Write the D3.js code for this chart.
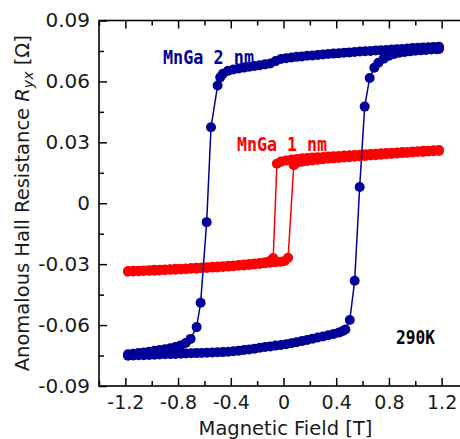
<!DOCTYPE html>
<html><head><meta charset="utf-8">
<script src="https://cdn.jsdelivr.net/npm/d3@7"></script>
<style>body{margin:0;background:#fff}svg{display:block}</style>
</head><body><svg id="c" width="460" height="439"></svg>
<script>
const xMajorTicks = [-1.2, -0.8, -0.4, 0, 0.4, 0.8, 1.2];
const xMajorLabels = ["-1.2", "-0.8", "-0.4", "0", "0.4", "0.8", "1.2"];
const xMinorTicks = [-1.4, -1.0, -0.6, -0.2, 0.2, 0.6, 1.0, 1.4];
const yMajorTicks = [-0.09, -0.06, -0.03, 0, 0.03, 0.06, 0.09];
const yMajorLabels = ["-0.09", "-0.06", "-0.03", "0", "0.03", "0.06", "0.09"];
const yMinorTicks = [-0.075, -0.045, -0.015, 0.015, 0.045, 0.075];

// MnGa 2 nm, field sweeping down
const blueDown = [[1.18,0.0771],[1.14,0.0770],[1.10,0.0768],[1.06,0.0767],[1.02,0.0766],[0.98,0.0764],[0.94,0.0762],[0.90,0.0760],[0.86,0.0758],[0.82,0.0757],[0.78,0.0755],[0.74,0.0753],[0.70,0.0752],[0.66,0.0750],[0.62,0.0749],[0.58,0.0747],[0.54,0.0745],[0.50,0.0743],[0.46,0.0741],[0.42,0.0739],[0.38,0.0737],[0.34,0.0735],[0.30,0.0733],[0.26,0.0730],[0.22,0.0728],[0.18,0.0726],[0.14,0.0723],[0.10,0.0721],[0.06,0.0718],[0.02,0.0714],[-0.02,0.0710],[-0.06,0.0700],[-0.10,0.0688],[-0.14,0.0684],[-0.18,0.0680],[-0.22,0.0676],[-0.26,0.0672],[-0.30,0.0668],[-0.34,0.0664],[-0.38,0.0659],[-0.42,0.0653],[-0.46,0.0638],[-0.48,0.0620],[-0.50,0.0580],[-0.55,0.0374],[-0.583,-0.0093],[-0.629,-0.0490],[-0.659,-0.0610],[-0.705,-0.0668],[-0.742,-0.0688],[-0.78,-0.0700],[-0.82,-0.0708],[-0.86,-0.0714],[-0.90,-0.0719],[-0.94,-0.0723],[-0.98,-0.0727],[-1.02,-0.0731],[-1.06,-0.0735],[-1.10,-0.0738],[-1.14,-0.0741],[-1.18,-0.0744]];
// MnGa 2 nm, field sweeping up
const blueUp = [[-1.18,-0.0751],[-1.14,-0.0750],[-1.10,-0.0749],[-1.06,-0.0748],[-1.02,-0.0747],[-0.98,-0.0746],[-0.94,-0.0745],[-0.90,-0.0744],[-0.86,-0.0743],[-0.82,-0.0742],[-0.78,-0.0741],[-0.74,-0.0740],[-0.70,-0.0739],[-0.66,-0.0738],[-0.62,-0.0737],[-0.58,-0.0736],[-0.54,-0.0735],[-0.50,-0.0734],[-0.46,-0.0733],[-0.42,-0.0731],[-0.38,-0.0729],[-0.34,-0.0726],[-0.30,-0.0723],[-0.26,-0.0720],[-0.22,-0.0716],[-0.18,-0.0712],[-0.14,-0.0708],[-0.10,-0.0705],[-0.06,-0.0701],[-0.02,-0.0698],[0.02,-0.0694],[0.06,-0.0689],[0.10,-0.0684],[0.14,-0.0679],[0.18,-0.0673],[0.22,-0.0667],[0.26,-0.0661],[0.30,-0.0656],[0.34,-0.0650],[0.38,-0.0644],[0.42,-0.0637],[0.45,-0.0629],[0.47,-0.0622],[0.503,-0.0575],[0.54,-0.0382],[0.578,0.0080],[0.616,0.0476],[0.654,0.0617],[0.689,0.0667],[0.72,0.0692],[0.76,0.0712],[0.80,0.0726],[0.84,0.0735],[0.88,0.0741],[0.92,0.0745],[0.96,0.0748],[1.00,0.0751],[1.04,0.0753],[1.08,0.0755],[1.12,0.0757],[1.16,0.0759],[1.18,0.0760]];
// MnGa 1 nm, field sweeping down
const redDown = [[1.18,0.0262],[1.14,0.0261],[1.10,0.0259],[1.06,0.0258],[1.02,0.0256],[0.98,0.0255],[0.94,0.0253],[0.90,0.0252],[0.86,0.0250],[0.82,0.0249],[0.78,0.0247],[0.74,0.0246],[0.70,0.0244],[0.66,0.0243],[0.62,0.0241],[0.58,0.0239],[0.54,0.0238],[0.50,0.0236],[0.46,0.0235],[0.42,0.0233],[0.38,0.0232],[0.34,0.0230],[0.30,0.0228],[0.26,0.0227],[0.22,0.0225],[0.18,0.0223],[0.14,0.0221],[0.10,0.0218],[0.06,0.0215],[0.02,0.0211],[-0.02,0.0205],[-0.05,0.0195],[-0.078,-0.0270],[-0.10,-0.0283],[-0.14,-0.0290],[-0.18,-0.0294],[-0.22,-0.0297],[-0.26,-0.0299],[-0.30,-0.0302],[-0.34,-0.0304],[-0.38,-0.0306],[-0.42,-0.0308],[-0.46,-0.0310],[-0.50,-0.0312],[-0.54,-0.0313],[-0.58,-0.0315],[-0.62,-0.0316],[-0.66,-0.0318],[-0.70,-0.0319],[-0.74,-0.0321],[-0.78,-0.0322],[-0.82,-0.0323],[-0.86,-0.0325],[-0.90,-0.0326],[-0.94,-0.0327],[-0.98,-0.0328],[-1.02,-0.0330],[-1.06,-0.0331],[-1.10,-0.0332],[-1.14,-0.0333],[-1.18,-0.0334]];
// MnGa 1 nm, field sweeping up
const redUp = [[-1.18,-0.0337],[-1.14,-0.0336],[-1.10,-0.0335],[-1.06,-0.0334],[-1.02,-0.0333],[-0.98,-0.0332],[-0.94,-0.0331],[-0.90,-0.0330],[-0.86,-0.0328],[-0.82,-0.0327],[-0.78,-0.0326],[-0.74,-0.0325],[-0.70,-0.0323],[-0.66,-0.0322],[-0.62,-0.0320],[-0.58,-0.0319],[-0.54,-0.0317],[-0.50,-0.0316],[-0.46,-0.0314],[-0.42,-0.0312],[-0.38,-0.0310],[-0.34,-0.0308],[-0.30,-0.0306],[-0.26,-0.0304],[-0.22,-0.0302],[-0.18,-0.0299],[-0.14,-0.0296],[-0.10,-0.0293],[-0.06,-0.0290],[-0.02,-0.0288],[0.01,-0.0284],[0.035,-0.0268],[0.078,0.0187],[0.10,0.0199],[0.14,0.0204],[0.18,0.0208],[0.22,0.0211],[0.26,0.0214],[0.30,0.0217],[0.34,0.0219],[0.38,0.0221],[0.42,0.0223],[0.46,0.0225],[0.50,0.0227],[0.54,0.0229],[0.58,0.0231],[0.62,0.0233],[0.66,0.0235],[0.70,0.0237],[0.74,0.0239],[0.78,0.0241],[0.82,0.0243],[0.86,0.0245],[0.90,0.0247],[0.94,0.0248],[0.98,0.0250],[1.02,0.0252],[1.06,0.0253],[1.10,0.0255],[1.14,0.0256],[1.18,0.0257]];

const seriesNames = ["MnGa 2 nm", "MnGa 1 nm"];
const tempLabel = "290K";
const xTitle = "Magnetic Field [T]";

const svg = d3.select("#c");
const L = 99, R = 468, T = 20.5, B = 386;
const x = d3.scaleLinear().domain([-1.4, 1.4]).range([L, R]);
const y = d3.scaleLinear().domain([-0.09, 0.09]).range([B, T]);
const font = "'DejaVu Sans', Verdana, sans-serif";

function styleAxis(g) {
  g.select(".domain").remove();
  g.selectAll("line").attr("stroke", "#000").attr("stroke-width", 1.5);
  g.selectAll("text").attr("font-family", font).attr("fill", "#1a1a1a");
}
// bottom axis with labels
svg.append("g").attr("transform", `translate(0,${B})`)
  .call(d3.axisBottom(x).tickValues(xMajorTicks).tickSize(-8).tickPadding(10)
    .tickFormat((d, i) => xMajorLabels[i]))
  .call(styleAxis).call(g => g.selectAll("text").attr("font-size", 19));
svg.append("g").attr("transform", `translate(0,${B})`)
  .call(d3.axisBottom(x).tickValues(xMinorTicks).tickSize(-5).tickFormat(""))
  .call(styleAxis);
// top axis
svg.append("g").attr("transform", `translate(0,${T})`)
  .call(d3.axisTop(x).tickValues(xMajorTicks).tickSize(-8).tickFormat(""))
  .call(styleAxis);
svg.append("g").attr("transform", `translate(0,${T})`)
  .call(d3.axisTop(x).tickValues(xMinorTicks).tickSize(-5).tickFormat(""))
  .call(styleAxis);
// left axis
svg.append("g").attr("transform", `translate(${L},0)`)
  .call(d3.axisLeft(y).tickValues(yMajorTicks).tickSize(-8).tickPadding(9)
    .tickFormat((d, i) => yMajorLabels[i]))
  .call(styleAxis).call(g => g.selectAll("text").attr("font-size", 20));
svg.append("g").attr("transform", `translate(${L},0)`)
  .call(d3.axisLeft(y).tickValues(yMinorTicks).tickSize(-5).tickFormat(""))
  .call(styleAxis);
// right axis
svg.append("g").attr("transform", `translate(${R},0)`)
  .call(d3.axisRight(y).tickValues(yMajorTicks).tickSize(-8).tickFormat(""))
  .call(styleAxis);
svg.append("g").attr("transform", `translate(${R},0)`)
  .call(d3.axisRight(y).tickValues(yMinorTicks).tickSize(-5).tickFormat(""))
  .call(styleAxis);
// frame
svg.append("rect").attr("x", L).attr("y", T).attr("width", R - L).attr("height", B - T)
  .attr("fill", "none").attr("stroke", "#000").attr("stroke-width", 1.6);

const line = d3.line().x(d => x(d[0])).y(d => y(d[1]));
function drawSeries(data, color) {
  const g = svg.append("g");
  g.append("path").datum(data).attr("d", line).attr("fill", "none")
    .attr("stroke", color).attr("stroke-width", 1.5);
  g.selectAll("circle").data(data).join("circle")
    .attr("cx", d => x(d[0])).attr("cy", d => y(d[1])).attr("r", 5).attr("fill", color);
}
const red = "#ff0000", blue = "#000099";
drawSeries(redUp, red);
drawSeries(redDown, red);
drawSeries(blueUp, blue);
drawSeries(blueDown, blue);

// annotations
const mono = "'DejaVu Sans Mono', monospace";
svg.append("text").attr("x", 163).attr("y", 63.5).attr("font-family", mono)
  .attr("font-weight", "bold").attr("font-size", 20).attr("fill", blue)
  .attr("textLength", 91).attr("lengthAdjust", "spacingAndGlyphs").text(seriesNames[0]);
svg.append("text").attr("x", 237).attr("y", 151).attr("font-family", mono)
  .attr("font-weight", "bold").attr("font-size", 19).attr("fill", red)
  .attr("textLength", 90).attr("lengthAdjust", "spacingAndGlyphs").text(seriesNames[1]);
svg.append("text").attr("x", 396).attr("y", 344).attr("font-family", mono)
  .attr("font-weight", "bold").attr("font-size", 20).attr("fill", "#000")
  .attr("textLength", 39).attr("lengthAdjust", "spacingAndGlyphs").text(tempLabel);

// axis titles
svg.append("text").attr("x", 285.5).attr("y", 435).attr("text-anchor", "middle")
  .attr("font-family", font).attr("font-size", 19.5).attr("fill", "#1a1a1a").text(xTitle);
const yt = svg.append("text").attr("transform", `translate(29,${(T + B) / 2}) rotate(-90)`)
  .attr("text-anchor", "middle").attr("font-family", font).attr("font-size", 19.5).attr("fill", "#1a1a1a");
yt.append("tspan").text("Anomalous Hall Resistance ");
yt.append("tspan").attr("font-style", "italic").text("R");
yt.append("tspan").attr("font-style", "italic").attr("font-size", 14).attr("dy", 4).text("yx");
yt.append("tspan").attr("dy", -4).text(" [Ω]");
</script></body></html>
